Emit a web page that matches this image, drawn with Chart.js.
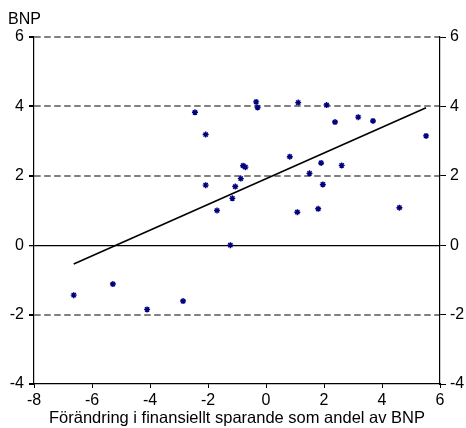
<!DOCTYPE html>
<html>
<head>
<meta charset="utf-8">
<script src="https://cdn.jsdelivr.net/npm/chart.js@4/dist/chart.umd.min.js"></script>
<style>
  html, body { margin: 0; padding: 0; background: #fff; }
  #wrap { width: 466px; height: 428px; position: relative; }
</style>
</head>
<body>
<div id="wrap"><canvas id="c" width="466" height="428"></canvas></div>
<script>
// Change in financial saving (x, % of GDP) vs GDP growth (y)
const savingChange = [-6.63, -5.28, -4.10, -2.86, -2.45, -2.08, -2.08, -1.69, -1.23, -1.16,
                      -1.06, -0.87, -0.79, -0.71, -0.34, -0.29, 0.82, 1.08, 1.11, 1.50,
                      1.80, 1.90, 1.96, 2.09, 2.38, 2.61, 3.18, 3.69, 4.60, 5.52];
const gdpGrowth    = [-1.44, -1.12, -1.85, -1.61, 3.83, 3.19, 1.73, 1.00, 0.00, 1.35,
                      1.69, 1.92, 2.29, 2.25, 4.13, 3.97, 2.55, 0.95, 4.11, 2.07,
                      1.05, 2.37, 1.75, 4.04, 3.55, 2.30, 3.69, 3.58, 1.08, 3.15];
// Fitted trend line end points
const trendX = [-6.63, 5.52];
const trendY = [-0.54, 3.96];
// Axis ranges and tick step
const xRange = [-8, 6];
const yRange = [-4, 6];
const tickStep = 2;

const FONT = "'Liberation Sans', Arial, sans-serif";
const navy = '#00007f';

const scatterPts = savingChange.map((x, i) => ({ x, y: gdpGrowth[i] }));
const trendPts = trendX.map((x, i) => ({ x, y: trendY[i] }));

const yTitle = {
  id: 'yTitle',
  afterDraw(chart) {
    const c = chart.ctx;
    c.save();
    c.font = '16px ' + FONT;
    c.fillStyle = '#000';
    c.textBaseline = 'alphabetic';
    c.textAlign = 'left';
    c.fillText('BNP', 8, 24);
    c.restore();
  }
};

new Chart(document.getElementById('c'), {
  type: 'scatter',
  data: {
    datasets: [
      {
        data: scatterPts,
        pointStyle: 'star',
        pointRadius: 3,
        pointBorderWidth: 1.4,
        borderColor: navy,
        backgroundColor: navy,
        order: 2
      },
      {
        type: 'line',
        data: trendPts,
        borderColor: '#000',
        borderWidth: 1.6,
        pointRadius: 0,
        fill: false,
        order: 1
      }
    ]
  },
  options: {
    responsive: false,
    animation: false,
    events: [],
    layout: { padding: { top: 37, left: 0, right: 0, bottom: 0 } },
    plugins: { legend: { display: false }, tooltip: { enabled: false } },
    scales: {
      x: {
        type: 'linear',
        min: xRange[0], max: xRange[1],
        ticks: { stepSize: tickStep, color: '#000', font: { family: FONT, size: 16 }, padding: 3, maxRotation: 0 },
        grid: { drawOnChartArea: false, drawTicks: true, tickLength: 4, tickColor: '#000' },
        border: { display: true, color: '#000', width: 1.2 },
        title: { display: true, text: 'Förändring i finansiellt sparande som andel av BNP', color: '#000', font: { family: FONT, size: 16.5 }, padding: { top: 0, bottom: 0 } },
        afterFit(s) { s.height = 44; }
      },
      y: {
        type: 'linear',
        position: 'left',
        min: yRange[0], max: yRange[1],
        ticks: { stepSize: tickStep, color: '#000', font: { family: FONT, size: 16 }, padding: 5 },
        grid: {
          drawOnChartArea: true,
          drawTicks: true,
          tickLength: 5,
          tickColor: '#000',
          tickBorderDash: [],
          color: ctx => (ctx.tick && ctx.tick.value === 0) ? '#000' : (ctx.tick && ctx.tick.value === yRange[0] ? 'rgba(0,0,0,0)' : '#808080'),
          lineWidth: ctx => (ctx.tick && ctx.tick.value === 0) ? 1.3 : 2
        },
        border: {
          display: true, color: '#000', width: 1.2,
          dash: ctx => (ctx.tick && ctx.tick.value !== 0) ? [6.5, 3.5] : []
        },
        afterFit(s) { s.width = 34; }
      },
      y2: {
        type: 'linear',
        position: 'right',
        min: yRange[0], max: yRange[1],
        ticks: { stepSize: tickStep, color: '#000', font: { family: FONT, size: 16 }, padding: 4 },
        grid: { drawOnChartArea: false, drawTicks: true, tickLength: 6, tickColor: '#000' },
        border: { display: true, color: '#000', width: 1.2 },
        afterFit(s) { s.width = 26; }
      }
    }
  },
  plugins: [yTitle]
});
</script>
</body>
</html>
